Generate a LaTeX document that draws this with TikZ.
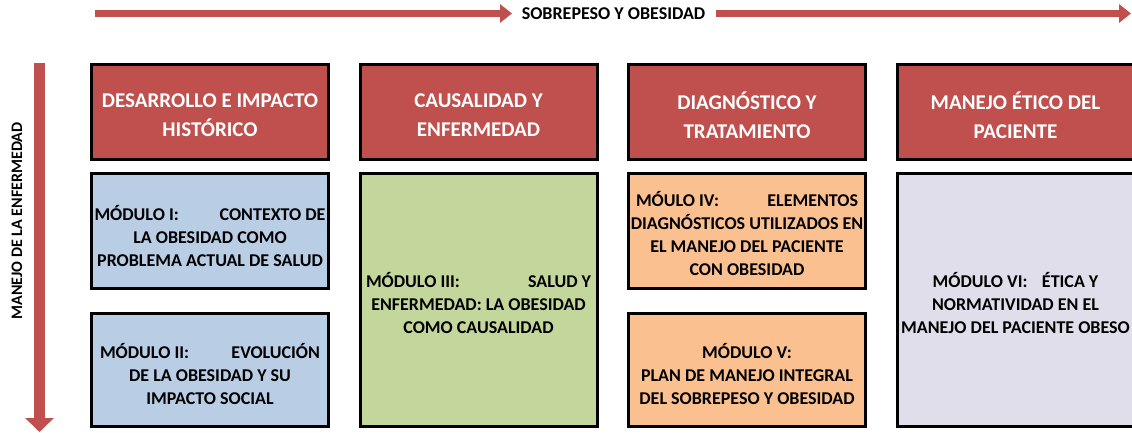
\documentclass[tikz,border=0pt]{standalone}
\usepackage{fontspec}
\setmainfont{Carlito}
\usetikzlibrary{arrows.meta}
\definecolor{hred}{HTML}{C0504D}
\definecolor{mblue}{HTML}{B9CDE5}
\definecolor{mgreen}{HTML}{C3D69B}
\definecolor{morange}{HTML}{FAC090}
\definecolor{mlav}{HTML}{E1DEEC}
\begin{document}
\begin{tikzpicture}[x=1pt,y=-1pt,
  hdr/.style={draw=black,line width=3pt,fill=hred,
    minimum width=237pt,minimum height=95pt,inner sep=0pt},
  hdrtext/.style={text=white,font=\fontsize{21}{29}\selectfont\bfseries,
    align=center,inner sep=0pt},
  modbox/.style={draw=black,line width=3pt,minimum width=237pt,inner sep=0pt},
  modtext/.style={text=black,font=\fontsize{18}{23}\selectfont\bfseries,
    align=center,inner sep=0pt},
  rowa/.style={modbox,minimum height=115pt},
  rowb/.style={modbox,minimum height=113pt},
  tallbox/.style={modbox,minimum height=253pt},
  harrow/.style={draw=hred,line width=7pt,-{Triangle[width=18pt,length=12pt]}},
  varrow/.style={draw=hred,line width=11pt,-{Triangle[width=28pt,length=14pt]}},
  axislabel/.style={text=black,inner sep=0pt}
]
\useasboundingbox (0,0) rectangle (1132,433);
\fill[white] (0,0) rectangle (1132,433);

% axis labels and arrows
\node[axislabel,font=\fontsize{18}{22}\selectfont\bfseries] (toplab) at (613.5,14) {SOBREPESO Y OBESIDAD};
\node[axislabel,font=\fontsize{16}{20}\selectfont\bfseries,rotate=90] (sidelab) at (17,221) {MANEJO DE LA ENFERMEDAD};
\coordinate (h1s) at (95,13.5);
\coordinate (h1e) at (512,13.5);
\coordinate (h2s) at (716,13.5);
\coordinate (h2e) at (1131,13.5);
\coordinate (v1s) at (39.5,63);
\coordinate (v1e) at (39.5,432);
\draw[harrow] (h1s) -- (h1e);
\draw[harrow] (h2s) -- (h2e);
\draw[varrow] (v1s) -- (v1e);

% headers
\node[hdr] (hd1) at (210,112) {};
\node[hdr] (hd2) at (478.5,112) {};
\node[hdr] (hd3) at (747,112) {};
\node[hdr] (hd4) at (1015.5,112) {};
\node[hdrtext] (ht1) at ([yshift=-3pt]hd1.center) {DESARROLLO E IMPACTO\\HISTÓRICO};
\node[hdrtext] (ht2) at ([yshift=-3pt]hd2.center) {CAUSALIDAD Y\\ENFERMEDAD};
\node[hdrtext] (ht3) at ([yshift=-3pt]hd3.center) {DIAGNÓSTICO Y\\TRATAMIENTO};
\node[hdrtext] (ht4) at ([yshift=-3pt]hd4.center) {MANEJO ÉTICO DEL\\PACIENTE};

% module boxes
\node[rowa,fill=mblue] (m1) at (210,231) {};
\node[rowb,fill=mblue] (m2) at (210,370) {};
\node[tallbox,fill=mgreen] (m3) at (478.5,300) {};
\node[rowa,fill=morange] (m4) at (747,231) {};
\node[rowb,fill=morange] (m5) at (747,370) {};
\node[tallbox,fill=mlav] (m6) at (1015.5,300) {};

% module texts
\node[modtext] (t1) at ([yshift=-5pt]m1.center)
  {\hbox to 231pt{MÓDULO I:\hfill CONTEXTO DE}\\LA OBESIDAD COMO\\PROBLEMA ACTUAL DE SALUD};
\node[modtext] (t2) at ([yshift=-4pt]m2.center)
  {\hbox to 220pt{MÓDULO II:\hfill EVOLUCIÓN}\\DE LA OBESIDAD Y SU\\IMPACTO SOCIAL};
\node[modtext] (t3) at ([yshift=-3pt]m3.center)
  {\hbox to 225pt{MÓDULO III:\hfill SALUD Y}\\ENFERMEDAD: LA OBESIDAD\\COMO CAUSALIDAD};
\node[modtext] (t4) at ([yshift=-3pt]m4.center)
  {\hbox to 222pt{MÓULO IV:\hfill ELEMENTOS}\\DIAGNÓSTICOS UTILIZADOS EN\\EL MANEJO DEL PACIENTE\\CON OBESIDAD};
\node[modtext] (t5) at ([yshift=-4pt]m5.center)
  {MÓDULO V:\\PLAN DE MANEJO INTEGRAL\\DEL SOBREPESO Y OBESIDAD};
\node[modtext] (t6) at ([yshift=-3pt]m6.center)
  {MÓDULO VI:\hspace{0.8em}ÉTICA Y\\NORMATIVIDAD EN EL\\MANEJO DEL PACIENTE OBESO};
\end{tikzpicture}
\end{document}
